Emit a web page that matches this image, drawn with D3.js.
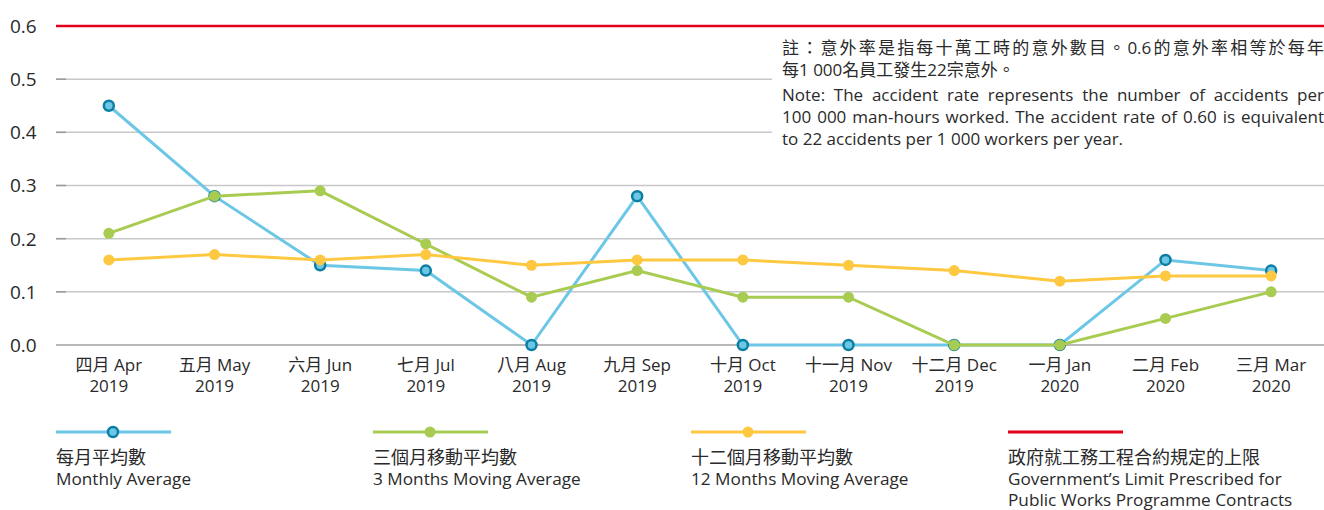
<!DOCTYPE html>
<html>
<head>
<meta charset="utf-8">
<script src="https://cdn.jsdelivr.net/npm/d3@7"></script>
<style>
  body { margin: 0; background: #fff; }
  svg text { font-family: "Open Sans", "Noto Sans CJK TC", sans-serif; fill: #2a2a2a; }
</style>
</head>
<body>
<div id="chart"></div>
<script>
// data
var monthsZh = ["四月", "五月", "六月", "七月", "八月", "九月", "十月", "十一月", "十二月", "一月", "二月", "三月"];
var monthsEn = ["Apr", "May", "Jun", "Jul", "Aug", "Sep", "Oct", "Nov", "Dec", "Jan", "Feb", "Mar"];
var years = ["2019", "2019", "2019", "2019", "2019", "2019", "2019", "2019", "2019", "2020", "2020", "2020"];
var monthly = [0.45, 0.28, 0.15, 0.14, 0, 0.28, 0, 0, 0, 0, 0.16, 0.14];
var moving3 = [0.21, 0.28, 0.29, 0.19, 0.09, 0.14, 0.09, 0.09, 0, 0, 0.05, 0.10];
var moving12 = [0.16, 0.17, 0.16, 0.17, 0.15, 0.16, 0.16, 0.15, 0.14, 0.12, 0.13, 0.13];
var limit = 0.6;
var yTicks = [0, 0.1, 0.2, 0.3, 0.4, 0.5, 0.6];
var noteLines = [
  "註：意外率是指每十萬工時的意外數目。0.6的意外率相等於每年",
  "每1 000名員工發生22宗意外。",
  "Note: The accident rate represents the number of accidents per",
  "100 000 man-hours worked. The accident rate of 0.60 is equivalent",
  "to 22 accidents per 1 000 workers per year."
];
var legendZh = ["每月平均數", "三個月移動平均數", "十二個月移動平均數", "政府就工務工程合約規定的上限"];
var legendEn = [["Monthly Average"], ["3 Months Moving Average"], ["12 Months Moving Average"],
  ["Government’s Limit Prescribed for", "Public Works Programme Contracts"]];

var w = 1324, h = 510;
var left = 56, right = 1324;

var svg = d3.select("#chart").append("svg")
  .attr("width", w)
  .attr("height", h);

var x = d3.scaleBand()
  .domain(d3.range(monthsEn.length))
  .range([left, right]);

var y = d3.scaleLinear()
  .domain([0, 0.6])
  .range([345, 26]);

var cx = function(d, i) { return x(i) + x.bandwidth() / 2; };

// gridlines
var inner = yTicks.filter(function(t) { return t > 0 && t < limit; });
svg.selectAll(".grid")
  .data(inner)
  .enter().append("line")
  .attr("x1", left).attr("x2", right)
  .attr("y1", function(d) { return y(d); })
  .attr("y2", function(d) { return y(d); })
  .attr("stroke", "#c8c8c8")
  .attr("stroke-width", 1.5);

svg.selectAll(".tickstub")
  .data(inner)
  .enter().append("line")
  .attr("x1", left).attr("x2", left + 10)
  .attr("y1", function(d) { return y(d); })
  .attr("y2", function(d) { return y(d); })
  .attr("stroke", "#9a9a9a")
  .attr("stroke-width", 1.5);

// zero line
svg.append("line")
  .attr("x1", left).attr("x2", right)
  .attr("y1", y(0)).attr("y2", y(0))
  .attr("stroke", "#a0a0a0")
  .attr("stroke-width", 1.5);

// limit line
svg.append("line")
  .attr("x1", left).attr("x2", right)
  .attr("y1", y(limit)).attr("y2", y(limit))
  .attr("stroke", "#e2001a")
  .attr("stroke-width", 2.5);

// y labels
svg.selectAll(".ylab")
  .data(yTicks)
  .enter().append("text")
  .attr("x", 10)
  .attr("y", function(d) { return y(d); })
  .attr("dy", "0.36em")
  .attr("font-size", "19px")
  .text(function(d) { return d.toFixed(1); });

// x labels
var xl = svg.selectAll(".xlab")
  .data(monthsEn)
  .enter().append("text")
  .attr("text-anchor", "middle")
  .attr("font-size", "17px");
xl.append("tspan")
  .attr("x", cx).attr("y", 371)
  .text(function(d, i) { return monthsZh[i] + " " + d; });
xl.append("tspan")
  .attr("x", cx).attr("y", 392)
  .text(function(d, i) { return years[i]; });

// note box (covers gridlines)
svg.append("rect")
  .attr("x", 772).attr("y", 36)
  .attr("width", right - 772).attr("height", 118)
  .attr("fill", "#fff");

var noteX = 782, noteW = right - noteX;
var noteY = [54, 76, 101, 123, 145];
noteLines.forEach(function(t, i) {
  var el = svg.append("text")
    .attr("x", noteX)
    .attr("y", noteY[i])
    .attr("font-size", "17px")
    .text(t);
  if (i == 0) {
    // justify the chinese line, keeping "0.6" together
    var natural = el.node().getComputedTextLength();
    var parts = t.match(/[0-9.]+|[^0-9.]/g);
    var gap = (noteW - natural) / (parts.length - 1);
    el.text(null);
    parts.forEach(function(p, k) {
      el.append("tspan").attr("dx", k ? gap : 0).text(p);
    });
  } else if (i == 2 || i == 3) {
    var nat = el.node().getComputedTextLength();
    var spaces = t.split(" ").length - 1;
    el.attr("word-spacing", ((noteW - nat) / spaces) + "px");
  }
});

// series
var series = [
  { values: monthly, line: "#6cc6e6", fill: "#6cc6e6", stroke: "#0b7ea3", r: 5, sw: 2.5 },
  { values: moving3, line: "#a8cb52", fill: "#a8cb52", stroke: "none", r: 5.5, sw: 0 },
  { values: moving12, line: "#fec841", fill: "#fec841", stroke: "none", r: 5.5, sw: 0 }
];

var line = d3.line()
  .x(function(d, i) { return cx(d, i); })
  .y(function(d) { return y(d); });

series.forEach(function(s) {
  svg.append("path")
    .datum(s.values)
    .attr("d", line)
    .attr("fill", "none")
    .attr("stroke", s.line)
    .attr("stroke-width", 3);
  svg.selectAll(null)
    .data(s.values)
    .enter().append("circle")
    .attr("cx", cx)
    .attr("cy", function(d) { return y(d); })
    .attr("r", s.r)
    .attr("fill", s.fill)
    .attr("stroke", s.stroke)
    .attr("stroke-width", s.sw);
});

// legend
var legX = [56, 373, 691, 1008];
var legSeries = [series[0], series[1], series[2], null];
legX.forEach(function(lx, i) {
  var s = legSeries[i];
  svg.append("line")
    .attr("x1", lx).attr("x2", lx + 115)
    .attr("y1", 432).attr("y2", 432)
    .attr("stroke", s ? s.line : "#e2001a")
    .attr("stroke-width", 3);
  if (s) {
    svg.append("circle")
      .attr("cx", lx + 57).attr("cy", 432)
      .attr("r", s.r)
      .attr("fill", s.fill)
      .attr("stroke", s.stroke)
      .attr("stroke-width", s.sw);
  }
  var lt = svg.append("text");
  lt.append("tspan")
    .attr("x", lx).attr("y", 464)
    .attr("font-size", "18px")
    .text(legendZh[i]);
  legendEn[i].forEach(function(t, j) {
    lt.append("tspan")
      .attr("x", lx).attr("y", 485 + j * 20.5)
      .attr("font-size", "17.2px")
      .text(t);
  });
});
</script>
</body>
</html>
